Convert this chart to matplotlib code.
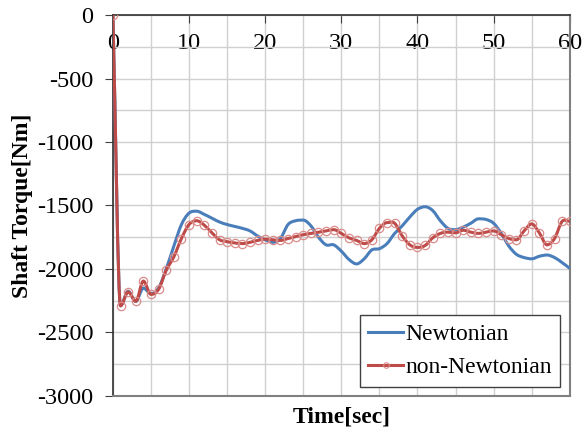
import numpy as np
import matplotlib.pyplot as plt
from matplotlib.ticker import MultipleLocator
from matplotlib.path import Path
from matplotlib.patches import PathPatch
from matplotlib.lines import Line2D

# Shaft torque time histories (sampled every second)
time = np.arange(0, 61)

newtonian = [0, -2290, -2175, -2255, -2150, -2195, -2150, -2000, -1820, -1650,
             -1560, -1545, -1570, -1600, -1630, -1650, -1665, -1680, -1700, -1740,
             -1770, -1790, -1760, -1650, -1620, -1615, -1660, -1750, -1810, -1810,
             -1860, -1925, -1960, -1920, -1850, -1840, -1800, -1720, -1660, -1590,
             -1530, -1510, -1540, -1620, -1680, -1690, -1670, -1640, -1605, -1610,
             -1640, -1720, -1820, -1885, -1910, -1920, -1900, -1890, -1910, -1950,
             -1995]

non_newtonian = [0, -2290, -2180, -2255, -2095, -2200, -2160, -2010, -1905, -1760,
                 -1650, -1620, -1655, -1715, -1770, -1785, -1795, -1800, -1790, -1775,
                 -1765, -1770, -1775, -1760, -1745, -1730, -1720, -1710, -1700, -1690,
                 -1720, -1755, -1775, -1800, -1770, -1680, -1635, -1640, -1740, -1810,
                 -1830, -1815, -1755, -1720, -1710, -1715, -1695, -1710, -1720, -1710,
                 -1700, -1730, -1760, -1770, -1700, -1645, -1715, -1810, -1760, -1625,
                 -1625]

blue = '#4a7ebb'
red = '#be4b48'

plt.rcParams['font.family'] = 'Liberation Serif'
plt.rcParams['axes.unicode_minus'] = False


def smooth_path(x, y):
    # smoothed line: cubic Bezier through every point, flat at turning points
    x = np.asarray(x, float)
    y = np.asarray(y, float)
    n = len(x)
    slope = np.zeros(n)
    for i in range(n):
        lo = max(i - 1, 0)
        hi = min(i + 1, n - 1)
        slope[i] = (y[hi] - y[lo]) / (x[hi] - x[lo])
        if 0 < i < n - 1 and (y[i] - y[i - 1]) * (y[i + 1] - y[i]) < 0:
            slope[i] = 0.0
    verts = [(x[0], y[0])]
    codes = [Path.MOVETO]
    for i in range(n - 1):
        h = (x[i + 1] - x[i]) / 3
        c1 = (x[i] + h, y[i] + slope[i] * h)
        c2 = (x[i + 1] - h, y[i + 1] - slope[i + 1] * h)
        verts += [c1, c2, (x[i + 1], y[i + 1])]
        codes += [Path.CURVE4] * 3
    return Path(verts, codes)


fig = plt.figure(figsize=(5.82, 4.29), dpi=100)
ax = fig.add_axes([0.194, 0.077, 0.785, 0.888])

ax.add_patch(PathPatch(smooth_path(time, newtonian), fc='none', ec=blue,
                       lw=2.2, joinstyle='round', zorder=3))
ax.add_patch(PathPatch(smooth_path(time, non_newtonian), fc='none', ec=red,
                       lw=2.2, joinstyle='round', zorder=4))
ax.plot(time, non_newtonian, ls='none', marker='o', ms=6, mfc='none',
        mec='#d98c8a', mew=0.9, zorder=5)

ax.set_xlim(0, 60)
ax.set_ylim(-3000, 0)
ax.xaxis.set_major_locator(MultipleLocator(10))
ax.xaxis.set_minor_locator(MultipleLocator(5))
ax.yaxis.set_major_locator(MultipleLocator(500))
ax.yaxis.set_minor_locator(MultipleLocator(250))
ax.grid(True, which='both', color='#d0d0d0', lw=1.0)
ax.set_axisbelow(True)

# x axis sits at y=0 (top), labels hang below it
ax.tick_params(axis='x', which='major', top=True, bottom=False, labeltop=True,
               labelbottom=False, direction='in', length=6, pad=-28,
               labelsize=17.5, color='#404040')
ax.tick_params(axis='x', which='minor', top=False, bottom=False)
ax.tick_params(axis='y', which='major', direction='out', length=6, pad=8,
               labelsize=17.5, color='#404040')
ax.tick_params(axis='y', which='minor', left=False)

for side in ['left', 'top']:
    ax.spines[side].set_color('#303030')
    ax.spines[side].set_linewidth(1.2)
for side in ['right', 'bottom']:
    ax.spines[side].set_color('#808080')
    ax.spines[side].set_linewidth(1.5)

ax.set_xlabel('Time[sec]', fontsize=17, fontweight='bold', labelpad=2)
ax.set_ylabel('Shaft Torque[Nm]', fontsize=17, fontweight='bold', labelpad=3)

handles = [Line2D([], [], color=blue, lw=2.2),
           Line2D([], [], color=red, lw=2.2, marker='o', ms=4, mfc='none',
                  mec='#d98c8a', mew=0.8)]
leg = ax.legend(handles, ['Newtonian', 'non-Newtonian'], loc='lower right',
                fontsize=17, fancybox=False, framealpha=1, edgecolor='#404040',
                handlelength=1.5, handletextpad=0.1, borderpad=0.35,
                labelspacing=0.5, borderaxespad=0.4)
leg.get_frame().set_linewidth(1.0)

fig.savefig('out.png', dpi=100)
